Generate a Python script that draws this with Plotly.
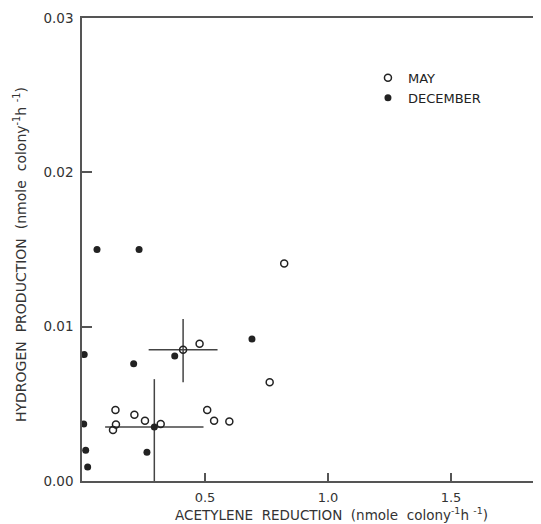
import plotly.graph_objects as go

# ---- data ----
may_x = [0.822, 0.478, 0.763, 0.136, 0.213, 0.256, 0.320, 0.138, 0.126, 0.509, 0.537, 0.599]
may_y = [0.0141, 0.0089, 0.0064, 0.0046, 0.0043, 0.0039, 0.0037, 0.00366, 0.0033, 0.0046, 0.0039, 0.00385]

dec_x = [0.061, 0.232, 0.009, 0.210, 0.377, 0.691, 0.007, 0.015, 0.264, 0.023]
dec_y = [0.0150, 0.0150, 0.0082, 0.0076, 0.0081, 0.0092, 0.0037, 0.0020, 0.00186, 0.0009]

# means with error bars
may_mean_x = [0.411]
may_mean_y = [0.0085]
may_err_x = [0.14]
may_err_y_up = [0.0020]
may_err_y_down = [0.0021]

dec_mean_x = [0.294]
dec_mean_y = [0.0035]
dec_err_x = [0.20]
dec_err_y_up = [0.0031]
dec_err_y_down = [0.0036]

y_tickvals = [0.0, 0.01, 0.02, 0.03]
y_ticktext = ["0.00", "0.01", "0.02", "0.03"]
x_tickvals = [0.5, 1.0, 1.5]
x_ticktext = ["0.5", "1.0", "1.5"]

x_title = "ACETYLENE  REDUCTION  (nmole  colony<sup>-1</sup>h <sup>-1</sup>)"
y_title = "HYDROGEN  PRODUCTION  (nmole  colony<sup>-1</sup>h <sup>-1</sup>)"

ink = "#222222"
axis_col = "#555555"
font = "DejaVu Sans"

fig = go.Figure()

# error-bar crosses
fig.add_trace(go.Scatter(
    x=dec_mean_x, y=dec_mean_y, mode="markers", showlegend=False,
    marker=dict(symbol="circle", size=7, color=ink),
    error_x=dict(type="data", array=dec_err_x, color="#444444", thickness=1.5, width=0),
    error_y=dict(type="data", array=dec_err_y_up, arrayminus=dec_err_y_down,
                 symmetric=False, color="#444444", thickness=1.5, width=0),
))
fig.add_trace(go.Scatter(
    x=may_mean_x, y=may_mean_y, mode="markers", showlegend=False,
    marker=dict(symbol="circle-open", size=7, color=ink, line=dict(width=1.5)),
    error_x=dict(type="data", array=may_err_x, color="#444444", thickness=1.5, width=0),
    error_y=dict(type="data", array=may_err_y_up, arrayminus=may_err_y_down,
                 symmetric=False, color="#444444", thickness=1.5, width=0),
))

fig.add_trace(go.Scatter(
    x=may_x, y=may_y, mode="markers", name="MAY",
    marker=dict(symbol="circle-open", size=7, color=ink, line=dict(width=1.5)),
))
fig.add_trace(go.Scatter(
    x=dec_x, y=dec_y, mode="markers", name="DECEMBER",
    marker=dict(symbol="circle", size=7, color=ink),
))

# the page body adds an 8px offset, so the figure is drawn 8px smaller
fig.update_layout(
    width=533, height=516,
    margin=dict(l=74, r=0, t=10, b=43, autoexpand=False),
    paper_bgcolor="white", plot_bgcolor="white",
    font=dict(family=font, color="#333333", size=12),
    legend=dict(x=0.623, y=0.903, xanchor="left", yanchor="top",
                bgcolor="rgba(0,0,0,0)", font=dict(size=13, color="#222222"),
                itemwidth=30, tracegroupgap=0),
    xaxis=dict(
        range=[0, 1.866], tickvals=x_tickvals, ticktext=x_ticktext,
        ticks="inside", ticklen=8, tickwidth=1.5, tickcolor=axis_col,
        showline=True, linecolor=axis_col, linewidth=1.5, mirror=True,
        showgrid=False, zeroline=False, automargin=False,
        ticklabelstandoff=4,
        tickfont=dict(size=13, color="#333333"),
    ),
    yaxis=dict(
        range=[0, 0.03], tickvals=y_tickvals, ticktext=y_ticktext,
        ticks="inside", ticklen=10, tickwidth=1.5, tickcolor=axis_col,
        showline=True, linecolor=axis_col, linewidth=1.5,
        showgrid=False, zeroline=False, automargin=False,
        ticklabelstandoff=4,
        tickfont=dict(size=13.5, color="#333333"),
    ),
    annotations=[
        dict(text=x_title, xref="paper", yref="paper", x=(331 - 82) / 459, y=-(514 - 481) / 463,
             xanchor="center", yanchor="middle", showarrow=False,
             font=dict(size=13.5, color="#333333")),
        dict(text=y_title, xref="paper", yref="paper", x=-(82 - 20) / 459, y=(481 - 255) / 463,
             xanchor="center", yanchor="middle", showarrow=False, textangle=-90,
             font=dict(size=14, color="#333333")),
    ],
)

fig.write_html("out.html")
